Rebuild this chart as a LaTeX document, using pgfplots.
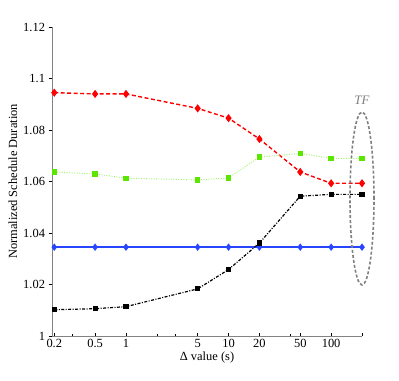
\documentclass[border=0pt]{standalone}
\usepackage{fontspec}
\setmainfont{Liberation Serif}
\usepackage{pgfplots}
\pgfplotsset{compat=1.18}
\definecolor{myred}{RGB}{255,0,0}
\definecolor{mygreen}{RGB}{90,230,0}
\definecolor{mygreenl}{RGB}{160,240,110}
\definecolor{myblue}{RGB}{40,70,255}
\definecolor{axgray}{RGB}{130,130,130}
\definecolor{elgray}{RGB}{128,128,128}
\begin{document}
\begin{tikzpicture}
\path[use as bounding box] (0,0) rectangle (399bp,381bp);
\begin{axis}[
  at={(52bp,45bp)}, anchor=south west,
  scale only axis, width=310bp, height=309bp,
  xmode=log, log basis x=10,
  xmin=0.19, xmax=200, ymin=1, ymax=1.12,
  axis lines*=left,
  axis line style={axgray, line width=0.6pt},
  xtick={0.2,0.5,1,5,10,20,50,100,200},
  xticklabels={0.2,0.5,1,5,10,20,50,100,},
  minor xtick={0.3,2,3,40},
  ytick={1,1.02,1.04,1.06,1.08,1.1,1.12},
  yticklabels={1,1.02,1.04,1.06,1.08,1.1,1.12},
  xtick align=inside, ytick align=outside,
  major tick length=3.5bp, minor tick length=2bp,
  tick style={black, line width=0.5pt},
  ticklabel style={font=\fontsize{12.5}{14}\selectfont, text=black},
  label style={font=\fontsize{12.5}{14}\selectfont, text=black},
  xlabel={Δ value (s)},
  ylabel={Normalized Schedule Duration},
  xlabel style={yshift=3bp},
  ylabel style={yshift=-1bp},
  clip=false,
]
% red
\addplot[myred, line width=1.4pt, dash pattern=on 4pt off 2.5pt, mark=diamond*, mark size=3pt, mark options={solid, fill=myred}]
coordinates {(0.2,1.0945) (0.5,1.0940) (1,1.0940) (5,1.0884) (10,1.0846) (20,1.0765) (50,1.0637) (100,1.0593) (200,1.0593)};
% green
\addplot[mygreenl, line width=0.9pt, dash pattern=on 1pt off 1.5pt, mark=square*, mark size=2.2pt, mark options={solid, fill=mygreen, draw=mygreen}]
coordinates {(0.2,1.0637) (0.5,1.0629) (1,1.0613) (5,1.0606) (10,1.0614) (20,1.0695) (50,1.0709) (100,1.0690) (200,1.0690)};
% blue
\addplot[myblue, line width=1.4pt, mark=diamond*, mark size=2.6pt, mark options={solid, fill=myblue}]
coordinates {(0.2,1.0345) (0.5,1.0345) (1,1.0345) (5,1.0345) (10,1.0345) (20,1.0345) (50,1.0345) (100,1.0345) (200,1.0345)};
% black
\addplot[black, line width=1.2pt, dash pattern=on 3pt off 1.5pt on 1pt off 1.5pt, mark=square*, mark size=2pt, mark options={solid, fill=black}]
coordinates {(0.2,1.0102) (0.5,1.0106) (1,1.0114) (5,1.0183) (10,1.0258) (20,1.0361) (50,1.0543) (100,1.0550) (200,1.0550)};
\draw[elgray, line width=1.6pt, dash pattern=on 3pt off 2pt] (axis cs:200,1.0534) ellipse [x radius=12bp, y radius=86.5bp];
\node[elgray, font=\fontsize{13}{15}\selectfont\itshape] at (axis cs:200,1.0917) {TF};
\end{axis}
\end{tikzpicture}
\end{document}
